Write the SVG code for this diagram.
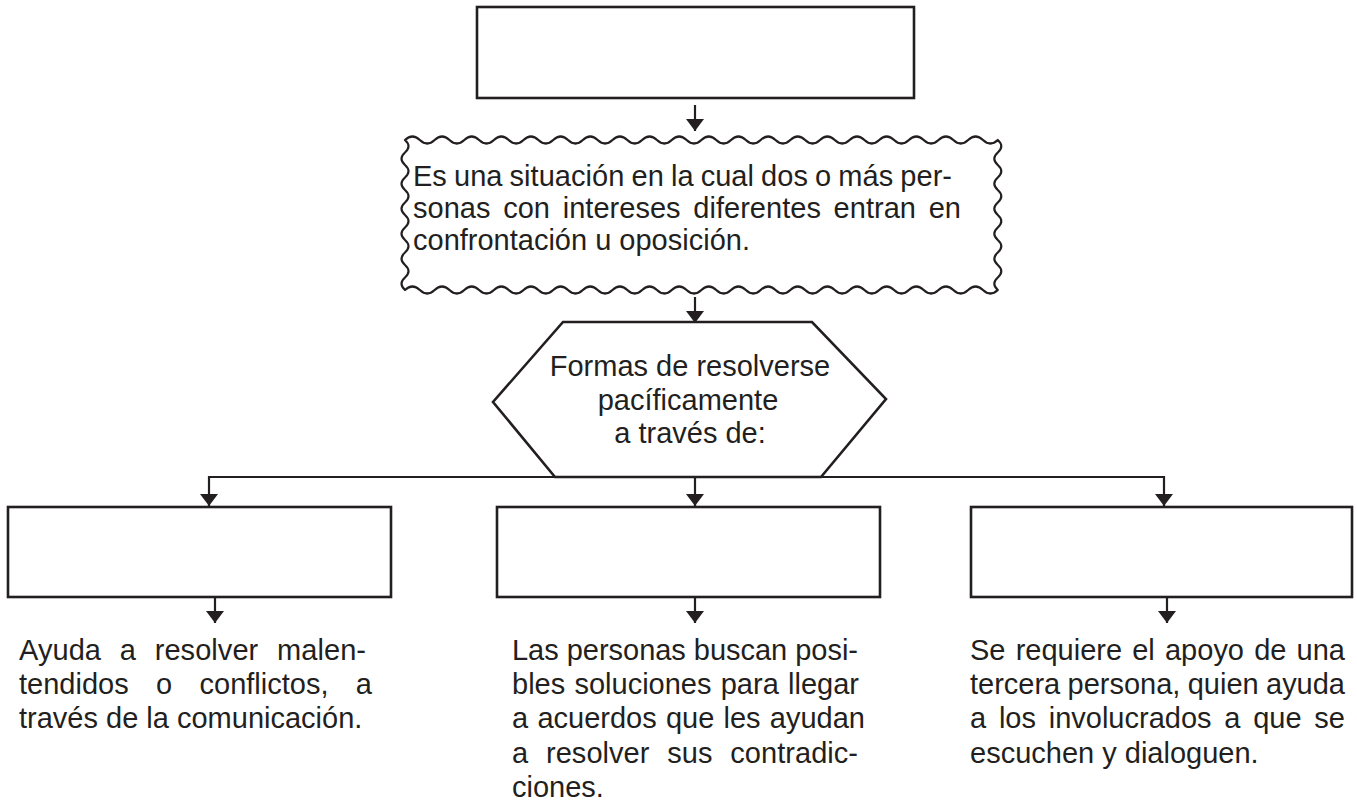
<svg xmlns="http://www.w3.org/2000/svg" width="1357" height="802" viewBox="0 0 1357 802">
<style>
.box{fill:#fff;stroke:#231f20;stroke-width:2.6}
.wave{fill:#fff;stroke:#231f20;stroke-width:2.2;stroke-linejoin:round}
.ln{fill:none;stroke:#231f20;stroke-width:2.2}
.arr{fill:none;stroke:#231f20;stroke-width:2.2;marker-end:url(#ah)}
text{font-family:"Liberation Sans","Open Sans",sans-serif;font-size:29px;fill:#231f20}
.c{text-anchor:middle}
</style>
<defs>
<marker id="ah" viewBox="0 0 12 18" refX="12" refY="9" markerWidth="12" markerHeight="18" markerUnits="userSpaceOnUse" orient="auto">
<path d="M0,0 L12,9 L0,18 z" fill="#231f20"/>
</marker>
</defs>
<rect width="1357" height="802" fill="#fff"/>

<g id="connectors">
<path class="arr" d="M695,105 V131"/>
<path class="arr" d="M695,297 V323"/>
<path class="ln" d="M209,477 H1164"/>
<path class="arr" d="M209,476 V506"/>
<path class="arr" d="M695,476 V506"/>
<path class="arr" d="M1164,476 V506"/>
<path class="arr" d="M215,598 V623"/>
<path class="arr" d="M695,598 V623"/>
<path class="arr" d="M1167,598 V623"/>
</g>

<g id="node-top">
<rect class="box" x="477" y="7" width="437" height="91"/>
</g>

<g id="node-definition">
<path class="wave" d="M405,140 q7.41,-7 14.82,0 t14.82,0 t14.82,0 t14.82,0 t14.82,0 t14.82,0 t14.82,0 t14.82,0 t14.82,0 t14.82,0 t14.82,0 t14.82,0 t14.82,0 t14.82,0 t14.82,0 t14.82,0 t14.82,0 t14.82,0 t14.82,0 t14.82,0 t14.82,0 t14.82,0 t14.82,0 t14.82,0 t14.82,0 t14.82,0 t14.82,0 t14.82,0 t14.82,0 t14.82,0 t14.82,0 t14.82,0 t14.82,0 t14.82,0 t14.82,0 t14.82,0 t14.82,0 t14.82,0 t14.82,0 t14.82,0 q7,6.25 0,12.5 t0,12.5 t0,12.5 t0,12.5 t0,12.5 t0,12.5 t0,12.5 t0,12.5 t0,12.5 t0,12.5 t0,12.5 t0,12.5 q-7.41,7 -14.82,0 t-14.82,0 t-14.82,0 t-14.82,0 t-14.82,0 t-14.82,0 t-14.82,0 t-14.82,0 t-14.82,0 t-14.82,0 t-14.82,0 t-14.82,0 t-14.82,0 t-14.82,0 t-14.82,0 t-14.82,0 t-14.82,0 t-14.82,0 t-14.82,0 t-14.82,0 t-14.82,0 t-14.82,0 t-14.82,0 t-14.82,0 t-14.82,0 t-14.82,0 t-14.82,0 t-14.82,0 t-14.82,0 t-14.82,0 t-14.82,0 t-14.82,0 t-14.82,0 t-14.82,0 t-14.82,0 t-14.82,0 t-14.82,0 t-14.82,0 t-14.82,0 t-14.82,0 q-7,-6.25 0,-12.5 t0,-12.5 t0,-12.5 t0,-12.5 t0,-12.5 t0,-12.5 t0,-12.5 t0,-12.5 t0,-12.5 t0,-12.5 t0,-12.5 t0,-12.5 z"/>
<text x="413" y="186" word-spacing="-1" textLength="539" lengthAdjust="spacing">Es una situación en la cual dos o más per-</text>
<text x="413" y="218" word-spacing="4.6" textLength="548" lengthAdjust="spacing">sonas con intereses diferentes entran en</text>
<text x="413" y="250">confrontación u oposición.</text>
</g>

<g id="node-forms">
<polygon class="box" points="563,322 812,322 886,399 821,477 555,477 493,402"/>
<text class="c" x="690" y="376">Formas de resolverse</text>
<text class="c" x="688" y="410">pacíficamente</text>
<text class="c" x="690" y="443">a través de:</text>
</g>

<g id="node-left">
<rect class="box" x="8" y="507" width="383" height="90"/>
<text x="19" y="660" word-spacing="10.6" textLength="347" lengthAdjust="spacing">Ayuda a resolver malen-</text>
<text x="19" y="694" word-spacing="19.3" textLength="353" lengthAdjust="spacing">tendidos o conflictos, a</text>
<text x="19" y="728">través de la comunicación.</text>
</g>

<g id="node-middle">
<rect class="box" x="497" y="507" width="383" height="90"/>
<text x="512" y="660" textLength="346" lengthAdjust="spacing">Las personas buscan posi-</text>
<text x="512" y="694" word-spacing="1.2" textLength="347" lengthAdjust="spacing">bles soluciones para llegar</text>
<text x="512" y="728" word-spacing="1.2" textLength="353" lengthAdjust="spacing">a acuerdos que les ayudan</text>
<text x="512" y="763" word-spacing="9.7" textLength="346" lengthAdjust="spacing">a resolver sus contradic-</text>
<text x="512" y="797">ciones.</text>
</g>

<g id="node-right">
<rect class="box" x="971" y="507" width="381" height="90"/>
<text x="970" y="660" word-spacing="2.1" textLength="375" lengthAdjust="spacing">Se requiere el apoyo de una</text>
<text x="970" y="694" word-spacing="-0.7" textLength="375" lengthAdjust="spacing">tercera persona, quien ayuda</text>
<text x="970" y="728" word-spacing="4.7" textLength="375" lengthAdjust="spacing">a los involucrados a que se</text>
<text x="970" y="763">escuchen y dialoguen.</text>
</g>
</svg>
